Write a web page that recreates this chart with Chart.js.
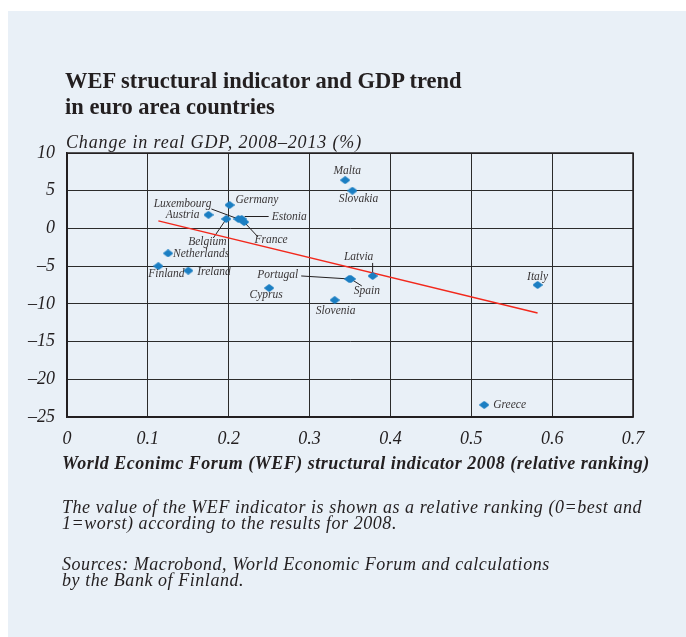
<!DOCTYPE html>
<html>
<head>
<meta charset="utf-8">
<script src="https://cdn.jsdelivr.net/npm/chart.js@4"></script>
<style>
  html, body { margin: 0; padding: 0; background: #ffffff; }
  #wrap { position: relative; width: 686px; height: 637px; overflow: hidden; }
  #panel { position: absolute; left: 8px; top: 11px; width: 678px; height: 626px; background: #e9f0f7; }
  canvas { position: absolute; left: 0; top: 0; }
  .t { position: absolute; white-space: nowrap; color: #231f20; font-family: "Liberation Serif", "DejaVu Serif", serif; }
  #title { left: 65px; top: 68px; font-size: 22.5px; font-weight: bold; line-height: 26px; }
  #ytitle { left: 66px; top: 132px; font-size: 18px; font-style: italic; letter-spacing: 0.85px; }
  #xtitle { left: 62px; top: 453px; font-size: 18px; font-style: italic; font-weight: bold; letter-spacing: 0.5px; }
  #note { left: 62px; top: 499px; font-size: 18px; font-style: italic; line-height: 16px; letter-spacing: 0.55px; }
  #src { left: 62px; top: 556px; font-size: 18px; font-style: italic; line-height: 16px; letter-spacing: 0.55px; }
</style>
</head>
<body>
<div id="wrap">
  <div id="panel"></div>
  <canvas id="c" width="686" height="637"></canvas>
  <div class="t" id="title">WEF structural indicator and GDP trend<br>in euro area countries</div>
  <div class="t" id="ytitle">Change in real GDP, 2008–2013 (%)</div>
  <div class="t" id="xtitle">World Econimc Forum (WEF) structural indicator 2008 (relative ranking)</div>
  <div class="t" id="note">The value of the WEF indicator is shown as a relative ranking (0=best and<br>1=worst) according to the results for 2008.</div>
  <div class="t" id="src">Sources: Macrobond, World Economic Forum and calculations<br>by the Bank of Finland.</div>
</div>
<script>
// ---- data ----
const countries = ["Malta","Slovakia","Germany","Luxembourg","Austria","Estonia","France","Belgium","Netherlands","Finland","Ireland","Cyprus","Portugal","Spain","Latvia","Slovenia","Italy","Greece"];
const wefIndicator = [0.344,0.353,0.201,0.212,0.175,0.216,0.219,0.197,0.125,0.113,0.150,0.250,0.349,0.351,0.378,0.331,0.582,0.516];
const gdpChange   = [6.4,5.0,3.1,1.25,1.8,1.25,0.85,1.25,-3.3,-5.0,-5.6,-7.9,-6.7,-6.7,-6.3,-9.5,-7.5,-23.4];
const trendX = [0.113, 0.582];
const trendY = [1.0, -11.2];
const xTicks = [0,0.1,0.2,0.3,0.4,0.5,0.6,0.7];
const yTicks = [10,5,0,-5,-10,-15,-20,-25];

// ---- label placement (pixel offsets from the point) ----
const labelStyle = {
  Malta:{dx:2,dy:-9,a:"center"}, Slovakia:{dx:6,dy:8,a:"center"},
  Germany:{dx:6,dy:-5,a:"left"}, Luxembourg:{dx:-27,dy:-15,a:"right",lead:[-27,-10]},
  Austria:{dx:-9,dy:0,a:"right"}, Estonia:{dx:30,dy:-2,a:"left",lead:[27,-2.5],leadEnd:[3,-2.5]},
  France:{dx:27,dy:18,a:"center",lead:[14,15]}, Belgium:{dx:-19,dy:23,a:"center",lead:[-13,19]},
  Netherlands:{dx:5,dy:1,a:"left"}, Finland:{dx:8,dy:8,a:"center"},
  Ireland:{dx:9,dy:1,a:"left"}, Cyprus:{dx:-3,dy:7,a:"center"},
  Portugal:{dx:-51,dy:-4,a:"right",lead:[-48,-3]}, Spain:{dx:16,dy:12,a:"center",lead:[11,7]},
  Latvia:{dx:-14,dy:-19,a:"center",lead:[0,-13]}, Slovenia:{dx:1,dy:11,a:"center"},
  Italy:{dx:0,dy:-8,a:"center"}, Greece:{dx:9,dy:0,a:"left"}
};

const serif = '"Liberation Serif", "DejaVu Serif", serif';
const dash = v => String(v).replace('-', '\u2013');

// flattened rounded diamond marker
const marker = document.createElement('canvas');
marker.width = 10; marker.height = 8;
(function () {
  const m = marker.getContext('2d');
  m.fillStyle = '#1c7fc3';
  m.strokeStyle = '#1c7fc3';
  m.lineJoin = 'round';
  m.lineWidth = 1.6;
  m.beginPath();
  m.moveTo(1, 4); m.lineTo(5, 1); m.lineTo(9, 4); m.lineTo(5, 7); m.closePath();
  m.fill(); m.stroke();
})();

const labelPlugin = {
  id: 'countryLabels',
  beforeDatasetsDraw(chart) {
    const ctx = chart.ctx;
    const meta = chart.getDatasetMeta(1);
    ctx.save();
    ctx.strokeStyle = '#231f20';
    ctx.lineWidth = 1;
    meta.data.forEach((pt, i) => {
      const s = labelStyle[countries[i]];
      if (!s || !s.lead) return;
      const e = s.leadEnd || [0,0];
      ctx.beginPath();
      ctx.moveTo(pt.x + s.lead[0], pt.y + s.lead[1]);
      ctx.lineTo(pt.x + e[0], pt.y + e[1]);
      ctx.stroke();
    });
    ctx.restore();
  },
  afterDatasetsDraw(chart) {
    const ctx = chart.ctx;
    const meta = chart.getDatasetMeta(1);
    ctx.save();
    ctx.font = 'italic 11.5px ' + serif;
    ctx.fillStyle = '#3a3637';
    ctx.textBaseline = 'middle';
    meta.data.forEach((pt, i) => {
      const s = labelStyle[countries[i]];
      ctx.textAlign = s.a;
      ctx.fillText(countries[i], pt.x + s.dx, pt.y + s.dy);
    });
    ctx.restore();
  }
};

new Chart(document.getElementById('c'), {
  type: 'scatter',
  data: {
    datasets: [
      {
        type: 'line',
        data: trendX.map((x, i) => ({x, y: trendY[i]})),
        borderColor: '#f2281c',
        borderWidth: 1.5,
        pointRadius: 0,
        fill: false,
        order: 2
      },
      {
        data: wefIndicator.map((x, i) => ({x, y: gdpChange[i]})),
        pointStyle: marker,
        pointRadius: 4,
        backgroundColor: '#1c7fc3',
        borderColor: '#1c7fc3',
        order: 1
      }
    ]
  },
  options: {
    responsive: false,
    animation: false,
    layout: { padding: { left: 0, top: 153, right: 53, bottom: 190 } },
    plugins: { legend: { display: false }, tooltip: { enabled: false } },
    scales: {
      x: {
        type: 'linear', min: 0, max: 0.7,
        afterBuildTicks: s => { s.ticks = xTicks.map(v => ({value: v})); },
        afterFit: s => { s.height = 30; },
        grid: { color: '#2b2b2b', lineWidth: 1, drawTicks: false },
        border: { color: '#231f20', width: 1.5 },
        ticks: { padding: 11, color: '#231f20', font: { family: serif, style: 'italic', size: 18 }, maxRotation: 0,
                 callback: v => dash(v) }
      },
      y: {
        type: 'linear', min: -25, max: 10,
        afterBuildTicks: s => { s.ticks = yTicks.map(v => ({value: v})); },
        afterFit: s => { s.width = 67; },
        grid: { color: '#2b2b2b', lineWidth: 1, drawTicks: false },
        border: { color: '#231f20', width: 1.5 },
        ticks: { padding: 12, color: '#231f20', font: { family: serif, style: 'italic', size: 18 },
                 callback: v => dash(v) }
      }
    }
  },
  plugins: [labelPlugin, {
    id: 'frame',
    afterDraw(chart) {
      const {ctx, chartArea: a} = chart;
      ctx.save();
      ctx.strokeStyle = '#231f20';
      ctx.lineWidth = 1.5;
      ctx.strokeRect(a.left, a.top, a.right - a.left, a.bottom - a.top);
      ctx.restore();
    }
  }]
});
</script>
</body>
</html>
